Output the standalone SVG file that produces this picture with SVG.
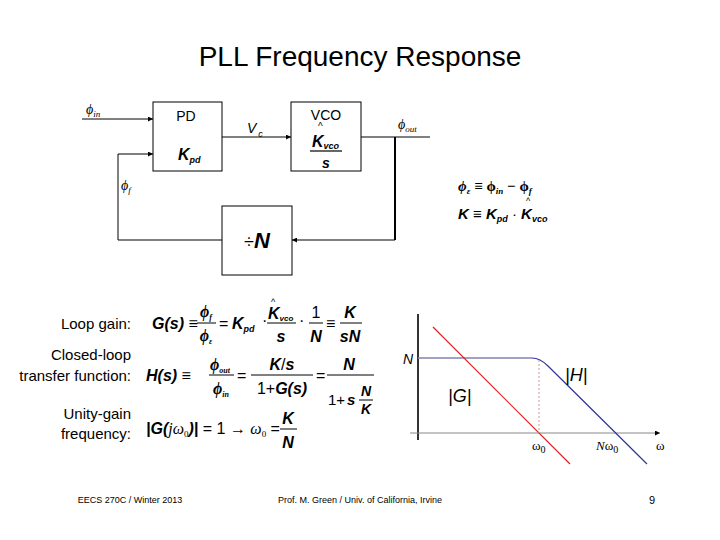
<svg xmlns="http://www.w3.org/2000/svg" width="720" height="540" viewBox="0 0 720 540">
<defs>
<marker id="ar" viewBox="0 0 6 6" refX="6" refY="3" markerWidth="5" markerHeight="5" orient="auto"><path d="M0,0L6,3L0,6z" fill="#000"/></marker>
<style>
text{font-family:"Liberation Sans",Arial,sans-serif;fill:#000}
.b{fill:#fff;stroke:#000;stroke-width:1}
.w{stroke:#000;stroke-width:1;fill:none}
.m{font-weight:bold;font-style:italic}
.i{font-style:italic}
.s{font-family:"Liberation Serif",serif}
.lbl{font-size:15px;text-anchor:end}
.c{text-anchor:middle}
</style>
</defs>
<rect width="720" height="540" fill="#fff"/>
<text x="360" y="66" font-size="28" class="c">PLL Frequency Response</text>

<g id="connectors">
<path class="w" d="M82,119H153" marker-end="url(#ar)"/>
<path class="w" d="M222,137H291" marker-end="url(#ar)"/>
<path class="w" d="M361,137H430"/>
<path d="M395,137V240" stroke="#000" stroke-width="2"/>
<path class="w" d="M395,240H292" marker-end="url(#ar)"/>
<path class="w" d="M222,240H118V154H153" marker-end="url(#ar)"/>
</g>
<g id="pd"><rect class="b" x="153" y="102" width="69" height="69"/>
<text x="186" y="121" font-size="14" class="c">PD</text>
<text x="178" y="160" font-size="16" class="m">K<tspan font-size="9" dy="3">pd</tspan></text></g>
<g id="vco"><rect class="b" x="291" y="102" width="70" height="69"/>
<text x="326" y="120" font-size="14" class="c">VCO</text>
<text x="318" y="130" font-size="10">^</text>
<text x="312" y="147" font-size="16" class="m">K<tspan font-size="9" dy="2">vco</tspan></text>
<rect x="310" y="150" width="32" height="2" fill="#666"/>
<text x="326" y="168" font-size="14" class="m c">s</text></g>
<g id="div"><rect class="b" x="222" y="206" width="70" height="69"/>
<text x="257" y="248" font-size="22" class="c"><tspan font-size="18">÷</tspan><tspan class="m">N</tspan></text></g>
<text x="86" y="114" font-size="14" class="i s">ϕ<tspan font-size="9" dy="3">in</tspan></text>
<text x="247" y="133" font-size="14" class="i">V<tspan font-size="9" dy="4" dx="2">c</tspan></text>
<text x="398" y="129" font-size="14" class="i s">ϕ<tspan font-size="9" dy="3">out</tspan></text>
<text x="121" y="190" font-size="14" class="i s">ϕ<tspan font-size="9" dy="3">f</tspan></text>

<g font-size="15" class="m">
<text x="458" y="191" class="s">ϕ<tspan font-size="9" dy="3">ε</tspan><tspan dy="-3" font-style="normal"> ≡ ϕ</tspan><tspan font-size="9" dy="3">in</tspan><tspan dy="-3" font-style="normal"> − ϕ</tspan><tspan font-size="9" dy="3">f</tspan></text>
<text x="458" y="219">K ≡ K<tspan font-size="9" dy="3">pd</tspan><tspan dy="-3" font-weight="normal"> · </tspan>K<tspan font-size="9" dy="3">vco</tspan></text>
<text x="526" y="204" font-size="9" font-weight="normal" font-style="normal">^</text>
</g>

<text x="131" y="329" class="lbl">Loop gain:</text>
<text x="131" y="360" class="lbl">Closed-loop</text>
<text x="131" y="381" class="lbl">transfer function:</text>
<text x="131" y="419" class="lbl">Unity-gain</text>
<text x="131" y="439" class="lbl">frequency:</text>

<g id="eq1" font-size="16">
<text x="152" y="329" class="m">G(s)<tspan font-weight="normal" font-style="normal"> ≡</tspan></text>
<text x="206" y="317" class="m s c">ϕ<tspan font-size="8" dy="3">f</tspan></text>
<text x="206" y="341" class="m s c">ϕ<tspan font-size="8" dy="3">ε</tspan></text>
<path d="M197,323H216" class="w"/>
<text x="219" y="329">=</text>
<text x="232" y="329" class="m">K<tspan font-size="9" dy="3">pd</tspan></text>
<text x="262" y="326">·</text>
<text x="271" y="305" font-size="9">^</text>
<text x="268" y="319" class="m">K<tspan font-size="8" dy="2">vco</tspan></text>
<text x="281" y="342" class="m c">s</text>
<path d="M267,323H296" class="w"/>
<text x="299" y="326">·</text>
<text x="316" y="318" class="c">1</text>
<text x="316" y="342" class="m c">N</text>
<path d="M309,323H323" class="w"/>
<text x="326" y="329">≡</text>
<text x="350" y="318" class="m c">K</text>
<text x="350" y="342" class="m c">sN</text>
<path d="M340,323H362" class="w"/>
</g>
<g id="eq2" font-size="16">
<text x="146" y="381" class="m">H(s)<tspan font-weight="normal" font-style="normal"> ≡</tspan></text>
<text x="210" y="370" class="m s">ϕ<tspan font-size="8" dy="3">out</tspan></text>
<text x="213" y="394" class="m s">ϕ<tspan font-size="8" dy="3">in</tspan></text>
<path d="M209,375H234" class="w"/>
<text x="237" y="381">=</text>
<text x="282" y="370" class="c"><tspan class="m">K</tspan>/<tspan class="m">s</tspan></text>
<text x="282" y="394" class="c">1+<tspan class="m">G(s)</tspan></text>
<path d="M251,375H313" class="w"/>
<text x="316" y="381">=</text>
<text x="349" y="370" class="m c">N</text>
<path d="M327,375H374" class="w"/>
<text x="328" y="405" font-size="15">1+<tspan class="m" dx="2">s</tspan></text>
<text x="366" y="396" font-size="14" class="m c">N</text>
<path d="M359,400H373" class="w"/>
<text x="366" y="414" font-size="14" class="m c">K</text>
</g>
<g id="eq3" font-size="16">
<text x="146" y="434"><tspan class="m">|G(</tspan><tspan class="i s">jω</tspan><tspan font-size="9" dy="3" class="s">0</tspan><tspan dy="-3" class="m">)|</tspan> = 1 → <tspan class="i s">ω</tspan><tspan font-size="9" dy="3" class="s">0</tspan><tspan dy="-3"> =</tspan></text>
<text x="288" y="424" class="m c">K</text>
<text x="288" y="448" class="m c">N</text>
<path d="M280,429H297" class="w"/>
</g>

<g id="bode">
<path d="M418,440V314" stroke="#333" stroke-width="2"/>
<path d="M410,433H660" stroke="#888" stroke-width="1" marker-end="url(#ar)"/>
<path d="M418,358H532Q540,358 548,366L647,464" fill="none" stroke="#33339a" stroke-width="1.2"/>
<path d="M418,358H532" stroke="#aab" stroke-width="1.2"/>
<path d="M433,327L570,464" stroke="#d22" stroke-width="1.2"/>
<path d="M539,360V433" stroke="#c99" stroke-dasharray="2,2"/>
<text x="403" y="364" font-size="14" class="i">N</text>
<text x="565" y="381" font-size="18" class="i">|<tspan font-style="italic">H</tspan>|</text>
<text x="448" y="402" font-size="18" class="i">|G|</text>
<text x="532" y="450" font-size="13" class="s">ω<tspan font-size="10" dy="3">0</tspan></text>
<text x="596" y="450" font-size="13" class="s"><tspan class="i">N</tspan>ω<tspan font-size="10" dy="3">0</tspan></text>
<text x="656" y="450" font-size="13" class="s">ω</text>
</g>

<text x="130" y="503" font-size="9" class="c">EECS 270C / Winter 2013</text>
<text x="360" y="503" font-size="9" class="c">Prof. M. Green / Univ. of California, Irvine</text>
<text x="652" y="504" font-size="11" class="c">9</text>
</svg>
